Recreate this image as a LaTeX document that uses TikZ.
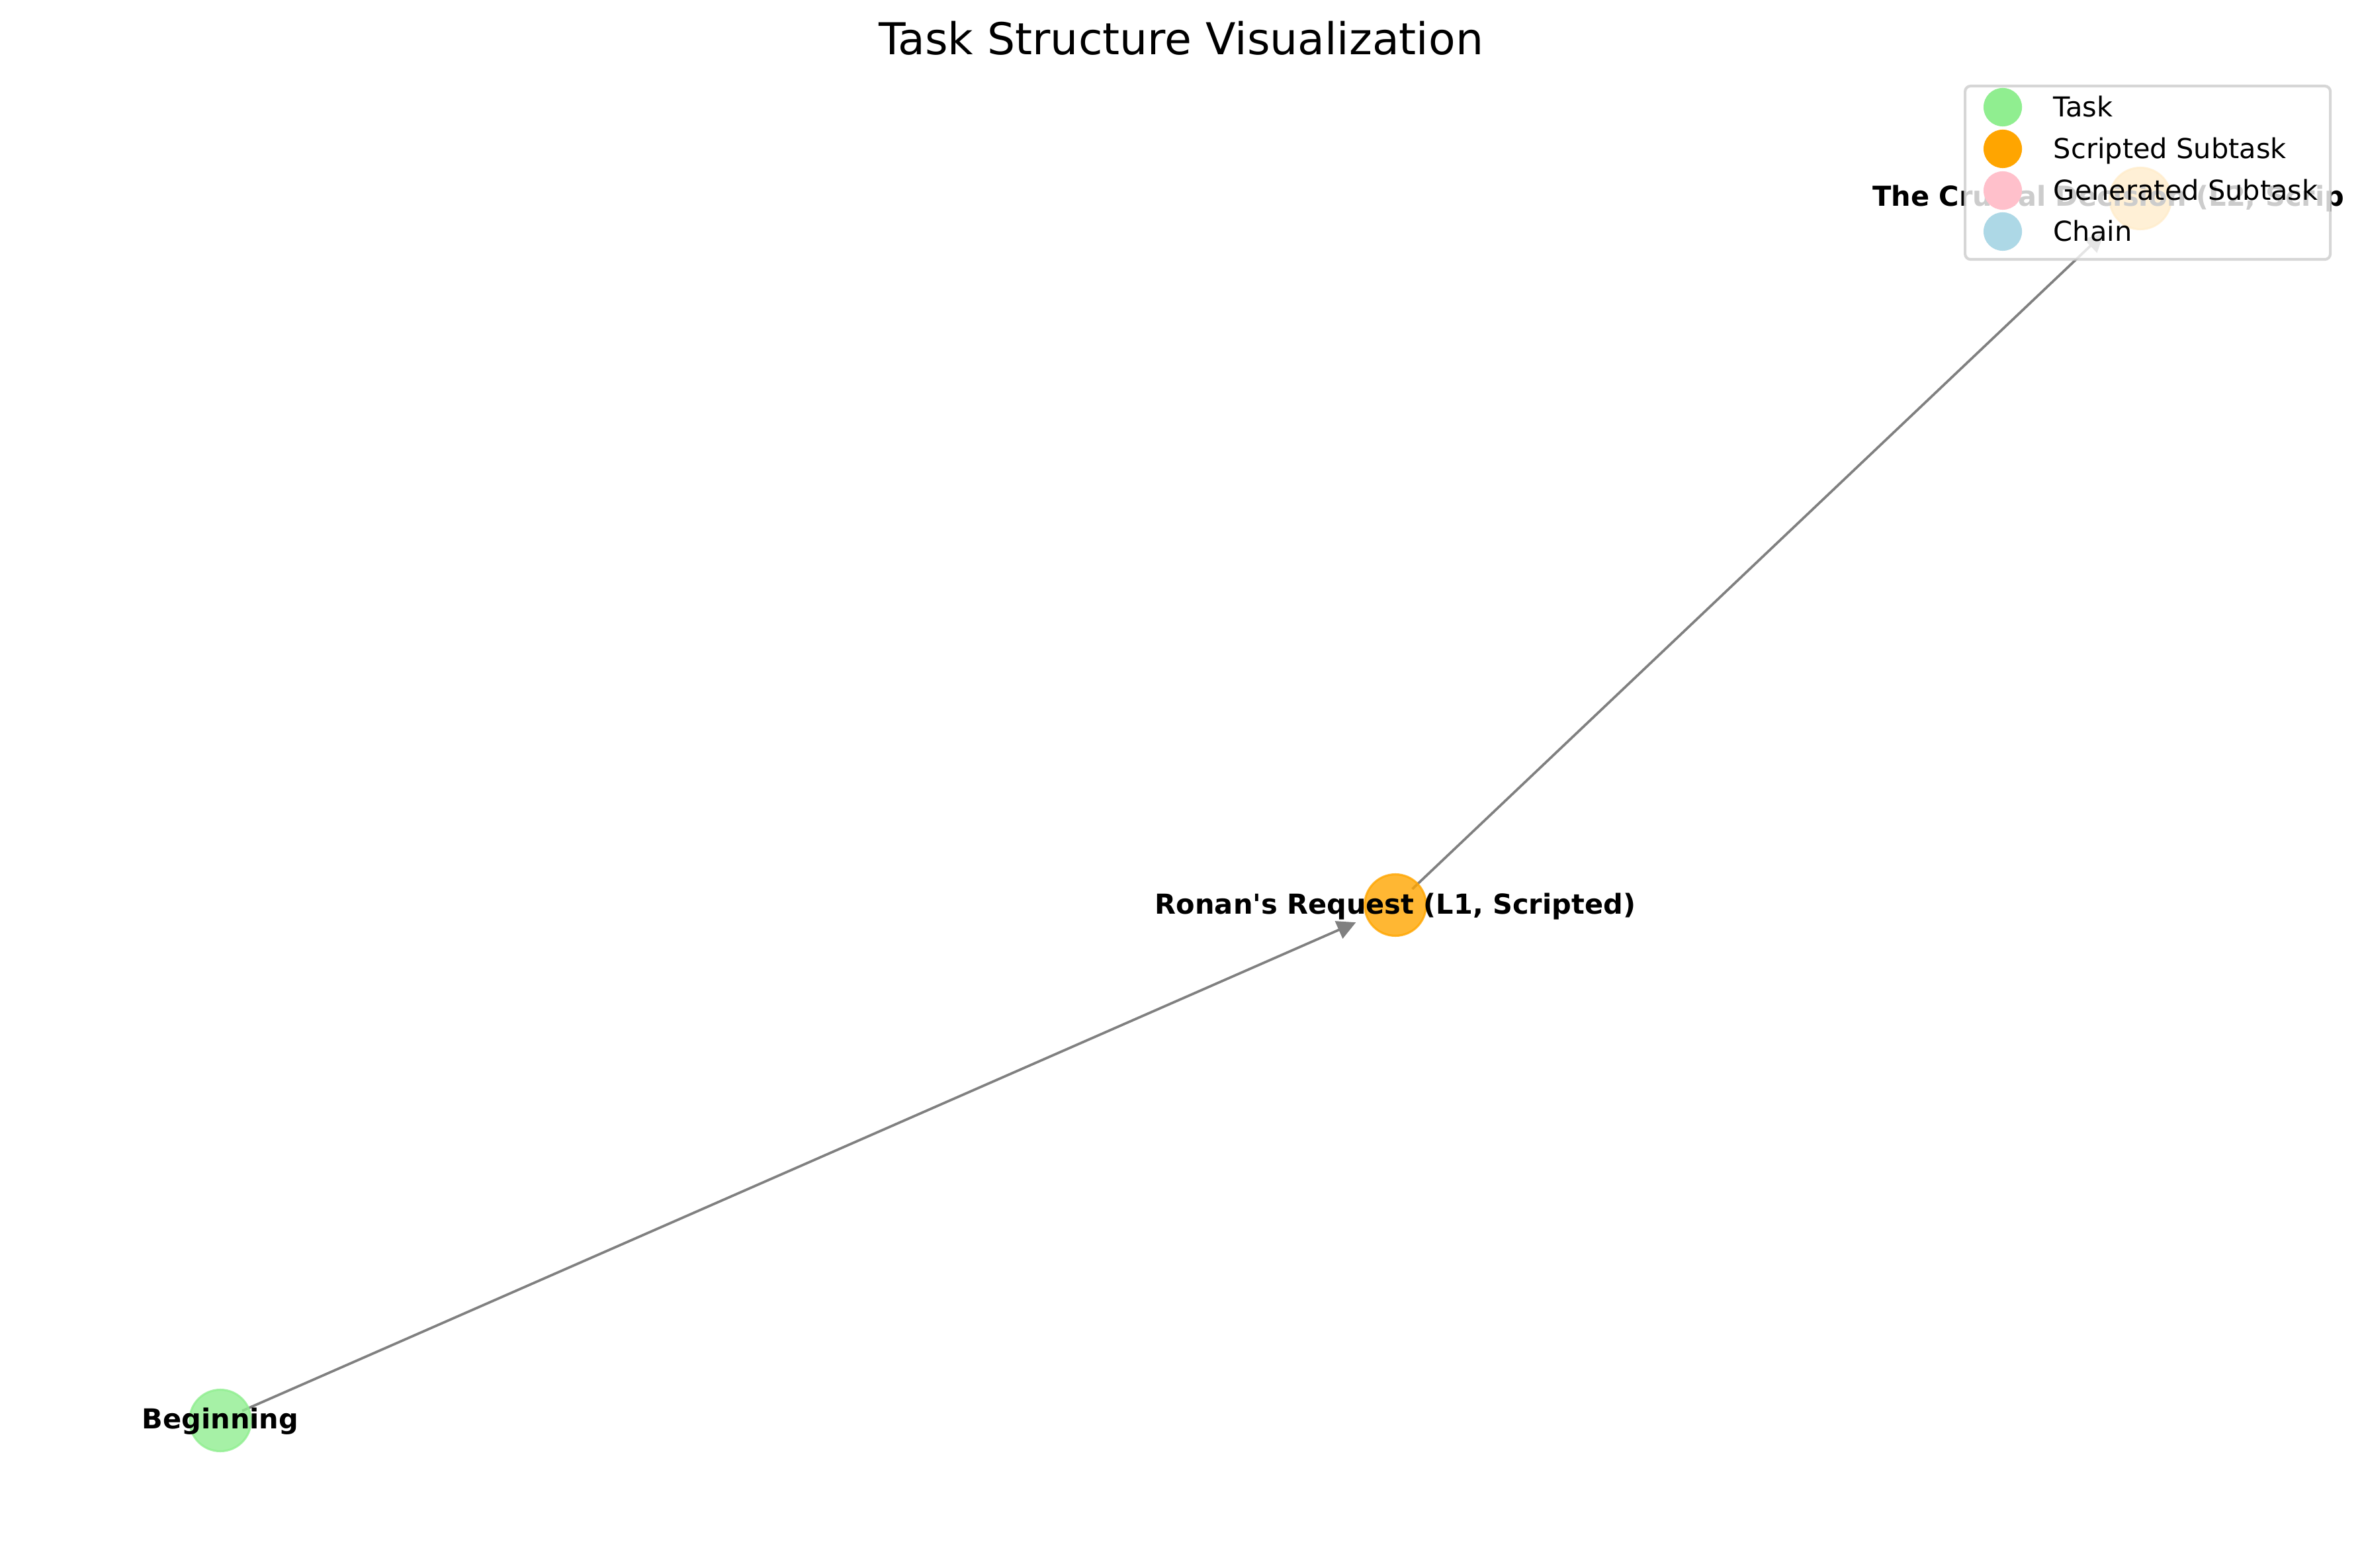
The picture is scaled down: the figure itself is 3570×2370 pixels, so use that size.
\documentclass[tikz,border=0pt]{standalone}
\usepackage{fontspec}
\setmainfont{DejaVu Sans}[Ligatures=TeXOff]
\usetikzlibrary{arrows.meta}
\definecolor{lgreen}{HTML}{90EE90}
\definecolor{orng}{HTML}{FFA500}
\definecolor{pnk}{HTML}{FFC0CB}
\definecolor{lblue}{HTML}{ADD8E6}
\definecolor{edgegray}{HTML}{808080}
\definecolor{framegray}{HTML}{CCCCCC}
\pgfdeclarelayer{bg}
\pgfsetlayers{bg,main}
\begin{document}
\begin{tikzpicture}[x=0.2409pt,y=-0.2409pt,
  graphnode/.style={circle, minimum size=22.4pt, inner sep=0pt, line width=0.75pt,
    fill opacity=0.8, draw opacity=0.8},
  nodelbl/.style={anchor=base, inner sep=0pt, font=\fontsize{10}{12}\selectfont\bfseries},
  edgeline/.style={draw=edgegray, line width=0.9pt, -{Triangle[length=6.8pt,width=6.8pt]}},
  legmark/.style={circle, minimum size=14pt, inner sep=0pt, draw=none},
  legtext/.style={anchor=base west, inner sep=0pt, font=\fontsize{10}{12}\selectfont},
  titletext/.style={anchor=base, inner sep=0pt, font=\fontsize{16}{19}\selectfont}]
\useasboundingbox (0,0) rectangle (3570,2370);

% nodes
\node[graphnode, fill=lgreen, draw=lgreen] (beg) at (333,2147) {};
\node[graphnode, fill=orng, draw=orng] (ron) at (2109,1368) {};
\node[graphnode, fill=orng, draw=orng] (cru) at (3235,300) {};

% edges (under the nodes)
\begin{pgfonlayer}{bg}
\draw[edgeline, shorten <=8.7pt, shorten >=15.7pt] (beg.center) -- (ron.center);
\draw[edgeline, shorten <=8.5pt, shorten >=18.3pt] (ron.center) -- (cru.center);
\end{pgfonlayer}

% labels
\node[nodelbl] (lbeg) at (333,2159) {Beginning};
\node[nodelbl] (lron) at (2109,1381) {Ronan's Request (L1, Scripted)};
\begin{scope}
\clip (0,0) rectangle (3541,2370);
\node[nodelbl] (lcru) at (3235,312) {The Crucial Decision (L2, Scripted)};
\end{scope}

% title
\node[titletext] (title) at (1785,83) {Task Structure Visualization};

% legend
\node[draw=framegray, draw opacity=0.8, fill=white, fill opacity=0.8, line width=1pt,
  rounded corners=2pt, minimum width=552*0.2409pt, minimum height=262*0.2409pt,
  inner sep=0pt, anchor=north west] (legend) at (2968,128) {};
\node[legmark, fill=lgreen] (m1) at (3027,162) {};
\node[legmark, fill=orng] (m2) at (3027,225) {};
\node[legmark, fill=pnk] (m3) at (3027,288) {};
\node[legmark, fill=lblue] (m4) at (3027,350) {};
\node[legtext] (t1) at (3103,177) {Task};
\node[legtext] (t2) at (3103,240) {Scripted Subtask};
\node[legtext] (t3) at (3103,303) {Generated Subtask};
\node[legtext] (t4) at (3103,365) {Chain};
\end{tikzpicture}
\end{document}
